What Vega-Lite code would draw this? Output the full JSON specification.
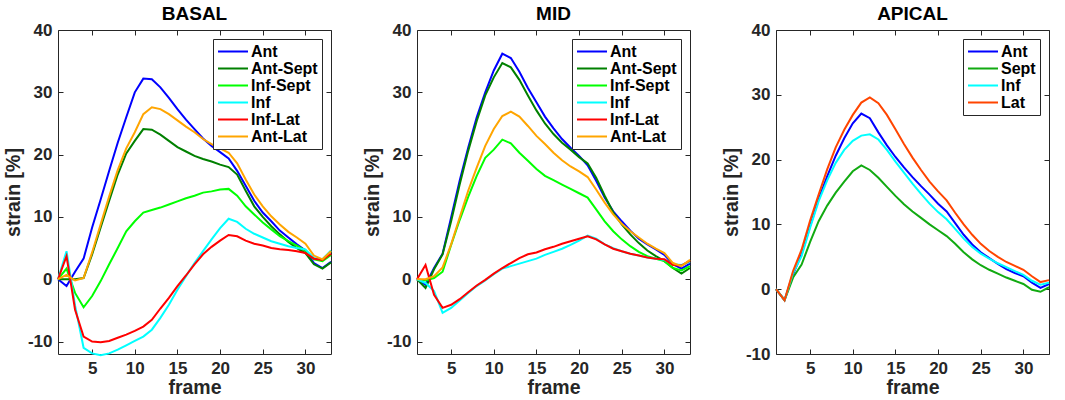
{
  "$schema": "https://vega.github.io/schema/vega-lite/v6.json",
  "autosize": {"type": "pad"},
  "padding": {"left": 2, "top": 4, "right": 5, "bottom": 2},
  "background": "white",
  "spacing": 86,
  "bounds": "flush",
  "resolve": {"scale": {"color": "independent"}, "legend": {"color": "independent"}},
  "config": {
    "view": {"stroke": "#262626", "strokeWidth": 1},
    "font": "Liberation Sans",
    "axis": {
      "grid": false, "domain": false, "minExtent": 0,
      "tickColor": "#262626", "tickSize": -5, "tickWidth": 1,
      "labelFont": "Liberation Sans", "labelFontWeight": "bold", "labelFontSize": 17,
      "labelColor": "#262626", "labelPadding": 11,
      "labelExpr": "replace(datum.label, '−', '-')",
      "titleFont": "Liberation Sans", "titleFontWeight": "bold", "titleFontSize": 19.5,
      "titleColor": "#262626"
    },
    "legend": {
      "orient": "top-right", "offset": 9, "padding": 4,
      "strokeColor": "#262626", "fillColor": "white",
      "symbolType": "stroke", "symbolSize": 900, "symbolStrokeWidth": 2,
      "labelFont": "Liberation Sans", "labelFontWeight": "bold", "labelFontSize": 16,
      "labelColor": "black", "labelOffset": 2, "clipHeight": 17, "rowPadding": 0
    },
    "title": {"font": "Liberation Sans", "fontSize": 19, "fontWeight": "bold", "color": "black", "offset": -3},
    "line": {"strokeWidth": 2, "clip": true}
  },
  "datasets": {
    "basal": [
      {"seg":"Ant","frame":1,"strain":0},{"seg":"Ant","frame":2,"strain":-1.1},{"seg":"Ant","frame":3,"strain":1.2},{"seg":"Ant","frame":4,"strain":3.3},{"seg":"Ant","frame":5,"strain":8.3},{"seg":"Ant","frame":6,"strain":12.8},{"seg":"Ant","frame":7,"strain":17.4},{"seg":"Ant","frame":8,"strain":21.9},{"seg":"Ant","frame":9,"strain":26},{"seg":"Ant","frame":10,"strain":30},{"seg":"Ant","frame":11,"strain":32.2},{"seg":"Ant","frame":12,"strain":32.1},{"seg":"Ant","frame":13,"strain":30.8},{"seg":"Ant","frame":14,"strain":29.1},{"seg":"Ant","frame":15,"strain":27.3},{"seg":"Ant","frame":16,"strain":25.6},{"seg":"Ant","frame":17,"strain":24.1},{"seg":"Ant","frame":18,"strain":22.6},{"seg":"Ant","frame":19,"strain":21.4},{"seg":"Ant","frame":20,"strain":20.4},{"seg":"Ant","frame":21,"strain":19.4},{"seg":"Ant","frame":22,"strain":17.4},{"seg":"Ant","frame":23,"strain":15},{"seg":"Ant","frame":24,"strain":12.6},{"seg":"Ant","frame":25,"strain":10.7},{"seg":"Ant","frame":26,"strain":9.3},{"seg":"Ant","frame":27,"strain":7.8},{"seg":"Ant","frame":28,"strain":6.7},{"seg":"Ant","frame":29,"strain":5.6},{"seg":"Ant","frame":30,"strain":4.6},{"seg":"Ant","frame":31,"strain":2.6},{"seg":"Ant","frame":32,"strain":1.8},{"seg":"Ant","frame":33,"strain":2.8},
      {"seg":"Ant-Sept","frame":1,"strain":0},{"seg":"Ant-Sept","frame":2,"strain":0},{"seg":"Ant-Sept","frame":3,"strain":0},{"seg":"Ant-Sept","frame":4,"strain":0.2},{"seg":"Ant-Sept","frame":5,"strain":4},{"seg":"Ant-Sept","frame":6,"strain":8.3},{"seg":"Ant-Sept","frame":7,"strain":12.6},{"seg":"Ant-Sept","frame":8,"strain":16.8},{"seg":"Ant-Sept","frame":9,"strain":20.2},{"seg":"Ant-Sept","frame":10,"strain":22.2},{"seg":"Ant-Sept","frame":11,"strain":24.1},{"seg":"Ant-Sept","frame":12,"strain":24},{"seg":"Ant-Sept","frame":13,"strain":23.2},{"seg":"Ant-Sept","frame":14,"strain":22.2},{"seg":"Ant-Sept","frame":15,"strain":21.2},{"seg":"Ant-Sept","frame":16,"strain":20.5},{"seg":"Ant-Sept","frame":17,"strain":19.8},{"seg":"Ant-Sept","frame":18,"strain":19.3},{"seg":"Ant-Sept","frame":19,"strain":18.9},{"seg":"Ant-Sept","frame":20,"strain":18.4},{"seg":"Ant-Sept","frame":21,"strain":18},{"seg":"Ant-Sept","frame":22,"strain":16.8},{"seg":"Ant-Sept","frame":23,"strain":14.2},{"seg":"Ant-Sept","frame":24,"strain":11.7},{"seg":"Ant-Sept","frame":25,"strain":10},{"seg":"Ant-Sept","frame":26,"strain":8.5},{"seg":"Ant-Sept","frame":27,"strain":7.2},{"seg":"Ant-Sept","frame":28,"strain":6},{"seg":"Ant-Sept","frame":29,"strain":5},{"seg":"Ant-Sept","frame":30,"strain":4.2},{"seg":"Ant-Sept","frame":31,"strain":2.4},{"seg":"Ant-Sept","frame":32,"strain":1.7},{"seg":"Ant-Sept","frame":33,"strain":2.7},
      {"seg":"Inf-Sept","frame":1,"strain":0},{"seg":"Inf-Sept","frame":2,"strain":1.7},{"seg":"Inf-Sept","frame":3,"strain":-2.2},{"seg":"Inf-Sept","frame":4,"strain":-4.5},{"seg":"Inf-Sept","frame":5,"strain":-2.7},{"seg":"Inf-Sept","frame":6,"strain":-0.3},{"seg":"Inf-Sept","frame":7,"strain":2.4},{"seg":"Inf-Sept","frame":8,"strain":5},{"seg":"Inf-Sept","frame":9,"strain":7.7},{"seg":"Inf-Sept","frame":10,"strain":9.3},{"seg":"Inf-Sept","frame":11,"strain":10.7},{"seg":"Inf-Sept","frame":12,"strain":11.1},{"seg":"Inf-Sept","frame":13,"strain":11.5},{"seg":"Inf-Sept","frame":14,"strain":12},{"seg":"Inf-Sept","frame":15,"strain":12.5},{"seg":"Inf-Sept","frame":16,"strain":13},{"seg":"Inf-Sept","frame":17,"strain":13.4},{"seg":"Inf-Sept","frame":18,"strain":13.9},{"seg":"Inf-Sept","frame":19,"strain":14.1},{"seg":"Inf-Sept","frame":20,"strain":14.4},{"seg":"Inf-Sept","frame":21,"strain":14.5},{"seg":"Inf-Sept","frame":22,"strain":13.4},{"seg":"Inf-Sept","frame":23,"strain":11.7},{"seg":"Inf-Sept","frame":24,"strain":10.4},{"seg":"Inf-Sept","frame":25,"strain":9.1},{"seg":"Inf-Sept","frame":26,"strain":8},{"seg":"Inf-Sept","frame":27,"strain":6.9},{"seg":"Inf-Sept","frame":28,"strain":6.1},{"seg":"Inf-Sept","frame":29,"strain":5.4},{"seg":"Inf-Sept","frame":30,"strain":4.6},{"seg":"Inf-Sept","frame":31,"strain":3.2},{"seg":"Inf-Sept","frame":32,"strain":2.9},{"seg":"Inf-Sept","frame":33,"strain":3.9},
      {"seg":"Inf","frame":1,"strain":0},{"seg":"Inf","frame":2,"strain":4.5},{"seg":"Inf","frame":3,"strain":-4.2},{"seg":"Inf","frame":4,"strain":-11},{"seg":"Inf","frame":5,"strain":-11.9},{"seg":"Inf","frame":6,"strain":-12.2},{"seg":"Inf","frame":7,"strain":-11.9},{"seg":"Inf","frame":8,"strain":-11.3},{"seg":"Inf","frame":9,"strain":-10.6},{"seg":"Inf","frame":10,"strain":-9.9},{"seg":"Inf","frame":11,"strain":-9.2},{"seg":"Inf","frame":12,"strain":-8.1},{"seg":"Inf","frame":13,"strain":-6.2},{"seg":"Inf","frame":14,"strain":-4.1},{"seg":"Inf","frame":15,"strain":-1.7},{"seg":"Inf","frame":16,"strain":0.5},{"seg":"Inf","frame":17,"strain":2.6},{"seg":"Inf","frame":18,"strain":4.5},{"seg":"Inf","frame":19,"strain":6.4},{"seg":"Inf","frame":20,"strain":8.2},{"seg":"Inf","frame":21,"strain":9.7},{"seg":"Inf","frame":22,"strain":9.2},{"seg":"Inf","frame":23,"strain":8.1},{"seg":"Inf","frame":24,"strain":7.3},{"seg":"Inf","frame":25,"strain":6.7},{"seg":"Inf","frame":26,"strain":6.1},{"seg":"Inf","frame":27,"strain":5.7},{"seg":"Inf","frame":28,"strain":5.3},{"seg":"Inf","frame":29,"strain":5},{"seg":"Inf","frame":30,"strain":4.8},{"seg":"Inf","frame":31,"strain":3.4},{"seg":"Inf","frame":32,"strain":3.2},{"seg":"Inf","frame":33,"strain":4.6},
      {"seg":"Inf-Lat","frame":1,"strain":0},{"seg":"Inf-Lat","frame":2,"strain":3.7},{"seg":"Inf-Lat","frame":3,"strain":-4.9},{"seg":"Inf-Lat","frame":4,"strain":-9.2},{"seg":"Inf-Lat","frame":5,"strain":-10},{"seg":"Inf-Lat","frame":6,"strain":-10.1},{"seg":"Inf-Lat","frame":7,"strain":-9.9},{"seg":"Inf-Lat","frame":8,"strain":-9.4},{"seg":"Inf-Lat","frame":9,"strain":-8.9},{"seg":"Inf-Lat","frame":10,"strain":-8.3},{"seg":"Inf-Lat","frame":11,"strain":-7.6},{"seg":"Inf-Lat","frame":12,"strain":-6.5},{"seg":"Inf-Lat","frame":13,"strain":-4.7},{"seg":"Inf-Lat","frame":14,"strain":-3},{"seg":"Inf-Lat","frame":15,"strain":-1.1},{"seg":"Inf-Lat","frame":16,"strain":0.6},{"seg":"Inf-Lat","frame":17,"strain":2.4},{"seg":"Inf-Lat","frame":18,"strain":4},{"seg":"Inf-Lat","frame":19,"strain":5.2},{"seg":"Inf-Lat","frame":20,"strain":6.2},{"seg":"Inf-Lat","frame":21,"strain":7.1},{"seg":"Inf-Lat","frame":22,"strain":6.9},{"seg":"Inf-Lat","frame":23,"strain":6.2},{"seg":"Inf-Lat","frame":24,"strain":5.7},{"seg":"Inf-Lat","frame":25,"strain":5.4},{"seg":"Inf-Lat","frame":26,"strain":5},{"seg":"Inf-Lat","frame":27,"strain":4.8},{"seg":"Inf-Lat","frame":28,"strain":4.7},{"seg":"Inf-Lat","frame":29,"strain":4.5},{"seg":"Inf-Lat","frame":30,"strain":4.2},{"seg":"Inf-Lat","frame":31,"strain":3.3},{"seg":"Inf-Lat","frame":32,"strain":3.1},{"seg":"Inf-Lat","frame":33,"strain":4.1},
      {"seg":"Ant-Lat","frame":1,"strain":0},{"seg":"Ant-Lat","frame":2,"strain":0.7},{"seg":"Ant-Lat","frame":3,"strain":-0.2},{"seg":"Ant-Lat","frame":4,"strain":0.2},{"seg":"Ant-Lat","frame":5,"strain":4.3},{"seg":"Ant-Lat","frame":6,"strain":8.8},{"seg":"Ant-Lat","frame":7,"strain":13.3},{"seg":"Ant-Lat","frame":8,"strain":17.5},{"seg":"Ant-Lat","frame":9,"strain":21},{"seg":"Ant-Lat","frame":10,"strain":23.6},{"seg":"Ant-Lat","frame":11,"strain":26.5},{"seg":"Ant-Lat","frame":12,"strain":27.6},{"seg":"Ant-Lat","frame":13,"strain":27.3},{"seg":"Ant-Lat","frame":14,"strain":26.5},{"seg":"Ant-Lat","frame":15,"strain":25.5},{"seg":"Ant-Lat","frame":16,"strain":24.5},{"seg":"Ant-Lat","frame":17,"strain":23.6},{"seg":"Ant-Lat","frame":18,"strain":22.5},{"seg":"Ant-Lat","frame":19,"strain":21.7},{"seg":"Ant-Lat","frame":20,"strain":21},{"seg":"Ant-Lat","frame":21,"strain":20.3},{"seg":"Ant-Lat","frame":22,"strain":18.6},{"seg":"Ant-Lat","frame":23,"strain":16},{"seg":"Ant-Lat","frame":24,"strain":13.6},{"seg":"Ant-Lat","frame":25,"strain":11.7},{"seg":"Ant-Lat","frame":26,"strain":10.1},{"seg":"Ant-Lat","frame":27,"strain":8.8},{"seg":"Ant-Lat","frame":28,"strain":7.6},{"seg":"Ant-Lat","frame":29,"strain":6.7},{"seg":"Ant-Lat","frame":30,"strain":5.7},{"seg":"Ant-Lat","frame":31,"strain":3.8},{"seg":"Ant-Lat","frame":32,"strain":3.2},{"seg":"Ant-Lat","frame":33,"strain":4.5}
    ],
    "mid": [
      {"seg":"Ant","frame":1,"strain":0},{"seg":"Ant","frame":2,"strain":-0.9},{"seg":"Ant","frame":3,"strain":1.8},{"seg":"Ant","frame":4,"strain":4.1},{"seg":"Ant","frame":5,"strain":9.9},{"seg":"Ant","frame":6,"strain":15.8},{"seg":"Ant","frame":7,"strain":21.1},{"seg":"Ant","frame":8,"strain":26},{"seg":"Ant","frame":9,"strain":30},{"seg":"Ant","frame":10,"strain":33.5},{"seg":"Ant","frame":11,"strain":36.2},{"seg":"Ant","frame":12,"strain":35.5},{"seg":"Ant","frame":13,"strain":33.3},{"seg":"Ant","frame":14,"strain":30.7},{"seg":"Ant","frame":15,"strain":28.4},{"seg":"Ant","frame":16,"strain":26.1},{"seg":"Ant","frame":17,"strain":24.2},{"seg":"Ant","frame":18,"strain":22.5},{"seg":"Ant","frame":19,"strain":21.1},{"seg":"Ant","frame":20,"strain":19.8},{"seg":"Ant","frame":21,"strain":18.3},{"seg":"Ant","frame":22,"strain":15.8},{"seg":"Ant","frame":23,"strain":13.1},{"seg":"Ant","frame":24,"strain":10.9},{"seg":"Ant","frame":25,"strain":9.3},{"seg":"Ant","frame":26,"strain":7.8},{"seg":"Ant","frame":27,"strain":6.5},{"seg":"Ant","frame":28,"strain":5.6},{"seg":"Ant","frame":29,"strain":4.8},{"seg":"Ant","frame":30,"strain":3.9},{"seg":"Ant","frame":31,"strain":2.4},{"seg":"Ant","frame":32,"strain":1.7},{"seg":"Ant","frame":33,"strain":2.5},
      {"seg":"Ant-Sept","frame":1,"strain":0},{"seg":"Ant-Sept","frame":2,"strain":-1.4},{"seg":"Ant-Sept","frame":3,"strain":1.6},{"seg":"Ant-Sept","frame":4,"strain":4},{"seg":"Ant-Sept","frame":5,"strain":9.3},{"seg":"Ant-Sept","frame":6,"strain":15.2},{"seg":"Ant-Sept","frame":7,"strain":20.6},{"seg":"Ant-Sept","frame":8,"strain":25.4},{"seg":"Ant-Sept","frame":9,"strain":29.5},{"seg":"Ant-Sept","frame":10,"strain":32.4},{"seg":"Ant-Sept","frame":11,"strain":34.7},{"seg":"Ant-Sept","frame":12,"strain":34},{"seg":"Ant-Sept","frame":13,"strain":32},{"seg":"Ant-Sept","frame":14,"strain":29.5},{"seg":"Ant-Sept","frame":15,"strain":27.1},{"seg":"Ant-Sept","frame":16,"strain":25},{"seg":"Ant-Sept","frame":17,"strain":23.3},{"seg":"Ant-Sept","frame":18,"strain":21.9},{"seg":"Ant-Sept","frame":19,"strain":20.8},{"seg":"Ant-Sept","frame":20,"strain":19.6},{"seg":"Ant-Sept","frame":21,"strain":18.6},{"seg":"Ant-Sept","frame":22,"strain":16.3},{"seg":"Ant-Sept","frame":23,"strain":13.4},{"seg":"Ant-Sept","frame":24,"strain":10.7},{"seg":"Ant-Sept","frame":25,"strain":8.8},{"seg":"Ant-Sept","frame":26,"strain":7.2},{"seg":"Ant-Sept","frame":27,"strain":5.8},{"seg":"Ant-Sept","frame":28,"strain":4.6},{"seg":"Ant-Sept","frame":29,"strain":3.7},{"seg":"Ant-Sept","frame":30,"strain":2.9},{"seg":"Ant-Sept","frame":31,"strain":1.8},{"seg":"Ant-Sept","frame":32,"strain":0.9},{"seg":"Ant-Sept","frame":33,"strain":1.8},
      {"seg":"Inf-Sept","frame":1,"strain":0},{"seg":"Inf-Sept","frame":2,"strain":-0.2},{"seg":"Inf-Sept","frame":3,"strain":0.2},{"seg":"Inf-Sept","frame":4,"strain":1.2},{"seg":"Inf-Sept","frame":5,"strain":5.5},{"seg":"Inf-Sept","frame":6,"strain":9.5},{"seg":"Inf-Sept","frame":7,"strain":13.2},{"seg":"Inf-Sept","frame":8,"strain":16.6},{"seg":"Inf-Sept","frame":9,"strain":19.5},{"seg":"Inf-Sept","frame":10,"strain":20.8},{"seg":"Inf-Sept","frame":11,"strain":22.4},{"seg":"Inf-Sept","frame":12,"strain":21.8},{"seg":"Inf-Sept","frame":13,"strain":20.3},{"seg":"Inf-Sept","frame":14,"strain":19},{"seg":"Inf-Sept","frame":15,"strain":17.7},{"seg":"Inf-Sept","frame":16,"strain":16.6},{"seg":"Inf-Sept","frame":17,"strain":15.9},{"seg":"Inf-Sept","frame":18,"strain":15.2},{"seg":"Inf-Sept","frame":19,"strain":14.5},{"seg":"Inf-Sept","frame":20,"strain":13.8},{"seg":"Inf-Sept","frame":21,"strain":13.1},{"seg":"Inf-Sept","frame":22,"strain":11.2},{"seg":"Inf-Sept","frame":23,"strain":9.3},{"seg":"Inf-Sept","frame":24,"strain":7.7},{"seg":"Inf-Sept","frame":25,"strain":6.4},{"seg":"Inf-Sept","frame":26,"strain":5.3},{"seg":"Inf-Sept","frame":27,"strain":4.4},{"seg":"Inf-Sept","frame":28,"strain":3.7},{"seg":"Inf-Sept","frame":29,"strain":3.3},{"seg":"Inf-Sept","frame":30,"strain":2.9},{"seg":"Inf-Sept","frame":31,"strain":1.8},{"seg":"Inf-Sept","frame":32,"strain":1.4},{"seg":"Inf-Sept","frame":33,"strain":2.1},
      {"seg":"Inf","frame":1,"strain":0},{"seg":"Inf","frame":2,"strain":-0.6},{"seg":"Inf","frame":3,"strain":-1.9},{"seg":"Inf","frame":4,"strain":-5.4},{"seg":"Inf","frame":5,"strain":-4.6},{"seg":"Inf","frame":6,"strain":-3.4},{"seg":"Inf","frame":7,"strain":-2.2},{"seg":"Inf","frame":8,"strain":-1.1},{"seg":"Inf","frame":9,"strain":-0.2},{"seg":"Inf","frame":10,"strain":0.8},{"seg":"Inf","frame":11,"strain":1.7},{"seg":"Inf","frame":12,"strain":2.1},{"seg":"Inf","frame":13,"strain":2.5},{"seg":"Inf","frame":14,"strain":2.9},{"seg":"Inf","frame":15,"strain":3.3},{"seg":"Inf","frame":16,"strain":3.9},{"seg":"Inf","frame":17,"strain":4.4},{"seg":"Inf","frame":18,"strain":4.9},{"seg":"Inf","frame":19,"strain":5.5},{"seg":"Inf","frame":20,"strain":6.2},{"seg":"Inf","frame":21,"strain":7},{"seg":"Inf","frame":22,"strain":6.5},{"seg":"Inf","frame":23,"strain":5.6},{"seg":"Inf","frame":24,"strain":5},{"seg":"Inf","frame":25,"strain":4.5},{"seg":"Inf","frame":26,"strain":4.1},{"seg":"Inf","frame":27,"strain":3.8},{"seg":"Inf","frame":28,"strain":3.5},{"seg":"Inf","frame":29,"strain":3.3},{"seg":"Inf","frame":30,"strain":3.1},{"seg":"Inf","frame":31,"strain":2.4},{"seg":"Inf","frame":32,"strain":2.3},{"seg":"Inf","frame":33,"strain":2.8},
      {"seg":"Inf-Lat","frame":1,"strain":0},{"seg":"Inf-Lat","frame":2,"strain":2.3},{"seg":"Inf-Lat","frame":3,"strain":-2.5},{"seg":"Inf-Lat","frame":4,"strain":-4.6},{"seg":"Inf-Lat","frame":5,"strain":-4.1},{"seg":"Inf-Lat","frame":6,"strain":-3.2},{"seg":"Inf-Lat","frame":7,"strain":-2.1},{"seg":"Inf-Lat","frame":8,"strain":-1},{"seg":"Inf-Lat","frame":9,"strain":-0.1},{"seg":"Inf-Lat","frame":10,"strain":0.9},{"seg":"Inf-Lat","frame":11,"strain":1.8},{"seg":"Inf-Lat","frame":12,"strain":2.6},{"seg":"Inf-Lat","frame":13,"strain":3.4},{"seg":"Inf-Lat","frame":14,"strain":4},{"seg":"Inf-Lat","frame":15,"strain":4.3},{"seg":"Inf-Lat","frame":16,"strain":4.8},{"seg":"Inf-Lat","frame":17,"strain":5.2},{"seg":"Inf-Lat","frame":18,"strain":5.7},{"seg":"Inf-Lat","frame":19,"strain":6.1},{"seg":"Inf-Lat","frame":20,"strain":6.5},{"seg":"Inf-Lat","frame":21,"strain":6.9},{"seg":"Inf-Lat","frame":22,"strain":6.4},{"seg":"Inf-Lat","frame":23,"strain":5.6},{"seg":"Inf-Lat","frame":24,"strain":4.9},{"seg":"Inf-Lat","frame":25,"strain":4.5},{"seg":"Inf-Lat","frame":26,"strain":4.1},{"seg":"Inf-Lat","frame":27,"strain":3.8},{"seg":"Inf-Lat","frame":28,"strain":3.5},{"seg":"Inf-Lat","frame":29,"strain":3.3},{"seg":"Inf-Lat","frame":30,"strain":3.2},{"seg":"Inf-Lat","frame":31,"strain":2.3},{"seg":"Inf-Lat","frame":32,"strain":2.2},{"seg":"Inf-Lat","frame":33,"strain":3},
      {"seg":"Ant-Lat","frame":1,"strain":0},{"seg":"Ant-Lat","frame":2,"strain":0},{"seg":"Ant-Lat","frame":3,"strain":0.5},{"seg":"Ant-Lat","frame":4,"strain":1.9},{"seg":"Ant-Lat","frame":5,"strain":5.6},{"seg":"Ant-Lat","frame":6,"strain":9.9},{"seg":"Ant-Lat","frame":7,"strain":14.2},{"seg":"Ant-Lat","frame":8,"strain":17.9},{"seg":"Ant-Lat","frame":9,"strain":21.4},{"seg":"Ant-Lat","frame":10,"strain":24.1},{"seg":"Ant-Lat","frame":11,"strain":26.2},{"seg":"Ant-Lat","frame":12,"strain":26.9},{"seg":"Ant-Lat","frame":13,"strain":26.1},{"seg":"Ant-Lat","frame":14,"strain":24.6},{"seg":"Ant-Lat","frame":15,"strain":23},{"seg":"Ant-Lat","frame":16,"strain":21.7},{"seg":"Ant-Lat","frame":17,"strain":20.3},{"seg":"Ant-Lat","frame":18,"strain":19.1},{"seg":"Ant-Lat","frame":19,"strain":18.1},{"seg":"Ant-Lat","frame":20,"strain":17.3},{"seg":"Ant-Lat","frame":21,"strain":16.4},{"seg":"Ant-Lat","frame":22,"strain":14.4},{"seg":"Ant-Lat","frame":23,"strain":12.3},{"seg":"Ant-Lat","frame":24,"strain":10.4},{"seg":"Ant-Lat","frame":25,"strain":8.9},{"seg":"Ant-Lat","frame":26,"strain":7.7},{"seg":"Ant-Lat","frame":27,"strain":6.7},{"seg":"Ant-Lat","frame":28,"strain":5.7},{"seg":"Ant-Lat","frame":29,"strain":4.9},{"seg":"Ant-Lat","frame":30,"strain":4.2},{"seg":"Ant-Lat","frame":31,"strain":2.6},{"seg":"Ant-Lat","frame":32,"strain":2.1},{"seg":"Ant-Lat","frame":33,"strain":3.1}
    ],
    "apical": [
      {"seg":"Ant","frame":1,"strain":0},{"seg":"Ant","frame":2,"strain":-1.7},{"seg":"Ant","frame":3,"strain":2.3},{"seg":"Ant","frame":4,"strain":5.4},{"seg":"Ant","frame":5,"strain":9.8},{"seg":"Ant","frame":6,"strain":13.9},{"seg":"Ant","frame":7,"strain":17.4},{"seg":"Ant","frame":8,"strain":20.6},{"seg":"Ant","frame":9,"strain":23.3},{"seg":"Ant","frame":10,"strain":25.6},{"seg":"Ant","frame":11,"strain":27.1},{"seg":"Ant","frame":12,"strain":26.4},{"seg":"Ant","frame":13,"strain":24.2},{"seg":"Ant","frame":14,"strain":22.2},{"seg":"Ant","frame":15,"strain":20.4},{"seg":"Ant","frame":16,"strain":18.8},{"seg":"Ant","frame":17,"strain":17.3},{"seg":"Ant","frame":18,"strain":15.9},{"seg":"Ant","frame":19,"strain":14.6},{"seg":"Ant","frame":20,"strain":13.2},{"seg":"Ant","frame":21,"strain":12},{"seg":"Ant","frame":22,"strain":10.2},{"seg":"Ant","frame":23,"strain":8.4},{"seg":"Ant","frame":24,"strain":6.9},{"seg":"Ant","frame":25,"strain":5.7},{"seg":"Ant","frame":26,"strain":4.8},{"seg":"Ant","frame":27,"strain":3.9},{"seg":"Ant","frame":28,"strain":3.1},{"seg":"Ant","frame":29,"strain":2.5},{"seg":"Ant","frame":30,"strain":2},{"seg":"Ant","frame":31,"strain":1},{"seg":"Ant","frame":32,"strain":0.2},{"seg":"Ant","frame":33,"strain":0.8},
      {"seg":"Sept","frame":1,"strain":0},{"seg":"Sept","frame":2,"strain":-1.7},{"seg":"Sept","frame":3,"strain":1.8},{"seg":"Sept","frame":4,"strain":3.8},{"seg":"Sept","frame":5,"strain":7.3},{"seg":"Sept","frame":6,"strain":10.5},{"seg":"Sept","frame":7,"strain":12.9},{"seg":"Sept","frame":8,"strain":14.9},{"seg":"Sept","frame":9,"strain":16.6},{"seg":"Sept","frame":10,"strain":18.2},{"seg":"Sept","frame":11,"strain":19.1},{"seg":"Sept","frame":12,"strain":18.4},{"seg":"Sept","frame":13,"strain":17.2},{"seg":"Sept","frame":14,"strain":15.8},{"seg":"Sept","frame":15,"strain":14.4},{"seg":"Sept","frame":16,"strain":13.1},{"seg":"Sept","frame":17,"strain":12},{"seg":"Sept","frame":18,"strain":11},{"seg":"Sept","frame":19,"strain":10},{"seg":"Sept","frame":20,"strain":9.1},{"seg":"Sept","frame":21,"strain":8.2},{"seg":"Sept","frame":22,"strain":7},{"seg":"Sept","frame":23,"strain":5.7},{"seg":"Sept","frame":24,"strain":4.6},{"seg":"Sept","frame":25,"strain":3.7},{"seg":"Sept","frame":26,"strain":3},{"seg":"Sept","frame":27,"strain":2.4},{"seg":"Sept","frame":28,"strain":1.8},{"seg":"Sept","frame":29,"strain":1.3},{"seg":"Sept","frame":30,"strain":0.8},{"seg":"Sept","frame":31,"strain":-0.1},{"seg":"Sept","frame":32,"strain":-0.4},{"seg":"Sept","frame":33,"strain":0.3},
      {"seg":"Inf","frame":1,"strain":0},{"seg":"Inf","frame":2,"strain":-1.7},{"seg":"Inf","frame":3,"strain":2.5},{"seg":"Inf","frame":4,"strain":5.1},{"seg":"Inf","frame":5,"strain":9.5},{"seg":"Inf","frame":6,"strain":13.6},{"seg":"Inf","frame":7,"strain":16.8},{"seg":"Inf","frame":8,"strain":19.5},{"seg":"Inf","frame":9,"strain":21.5},{"seg":"Inf","frame":10,"strain":22.9},{"seg":"Inf","frame":11,"strain":23.7},{"seg":"Inf","frame":12,"strain":23.9},{"seg":"Inf","frame":13,"strain":23.1},{"seg":"Inf","frame":14,"strain":21.5},{"seg":"Inf","frame":15,"strain":19.7},{"seg":"Inf","frame":16,"strain":18},{"seg":"Inf","frame":17,"strain":16.3},{"seg":"Inf","frame":18,"strain":14.7},{"seg":"Inf","frame":19,"strain":13.2},{"seg":"Inf","frame":20,"strain":11.9},{"seg":"Inf","frame":21,"strain":10.8},{"seg":"Inf","frame":22,"strain":9.3},{"seg":"Inf","frame":23,"strain":7.8},{"seg":"Inf","frame":24,"strain":6.5},{"seg":"Inf","frame":25,"strain":5.5},{"seg":"Inf","frame":26,"strain":4.7},{"seg":"Inf","frame":27,"strain":4},{"seg":"Inf","frame":28,"strain":3.4},{"seg":"Inf","frame":29,"strain":2.8},{"seg":"Inf","frame":30,"strain":2.2},{"seg":"Inf","frame":31,"strain":1.3},{"seg":"Inf","frame":32,"strain":0.7},{"seg":"Inf","frame":33,"strain":1},
      {"seg":"Lat","frame":1,"strain":0},{"seg":"Lat","frame":2,"strain":-1.7},{"seg":"Lat","frame":3,"strain":2.8},{"seg":"Lat","frame":4,"strain":6.1},{"seg":"Lat","frame":5,"strain":10.6},{"seg":"Lat","frame":6,"strain":14.6},{"seg":"Lat","frame":7,"strain":18.5},{"seg":"Lat","frame":8,"strain":21.9},{"seg":"Lat","frame":9,"strain":24.6},{"seg":"Lat","frame":10,"strain":26.9},{"seg":"Lat","frame":11,"strain":28.8},{"seg":"Lat","frame":12,"strain":29.6},{"seg":"Lat","frame":13,"strain":28.7},{"seg":"Lat","frame":14,"strain":26.9},{"seg":"Lat","frame":15,"strain":24.7},{"seg":"Lat","frame":16,"strain":22.4},{"seg":"Lat","frame":17,"strain":20.3},{"seg":"Lat","frame":18,"strain":18.4},{"seg":"Lat","frame":19,"strain":16.6},{"seg":"Lat","frame":20,"strain":15.1},{"seg":"Lat","frame":21,"strain":13.7},{"seg":"Lat","frame":22,"strain":11.8},{"seg":"Lat","frame":23,"strain":10},{"seg":"Lat","frame":24,"strain":8.4},{"seg":"Lat","frame":25,"strain":7},{"seg":"Lat","frame":26,"strain":5.9},{"seg":"Lat","frame":27,"strain":5},{"seg":"Lat","frame":28,"strain":4.2},{"seg":"Lat","frame":29,"strain":3.6},{"seg":"Lat","frame":30,"strain":3},{"seg":"Lat","frame":31,"strain":2},{"seg":"Lat","frame":32,"strain":1.1},{"seg":"Lat","frame":33,"strain":1.4}
    ]
  },
  "hconcat": [
    {
      "width": 273, "height": 324,
      "title": "BASAL",
      "data": {"name": "basal"},
      "layer": [
        {
          "mark": "line",
          "encoding": {
            "x": {"field": "frame", "type": "quantitative", "scale": {"domain": [1, 33], "nice": false, "zero": false}, "axis": {"values": [5, 10, 15, 20, 25, 30], "title": "frame", "titlePadding": 2}},
            "y": {"field": "strain", "type": "quantitative", "scale": {"domain": [-12, 40], "nice": false, "zero": false}, "axis": {"values": [-10, 0, 10, 20, 30, 40], "title": "strain [%]", "titlePadding": 4}},
            "color": {"field": "seg", "type": "nominal", "scale": {"domain": ["Ant", "Ant-Sept", "Inf-Sept", "Inf", "Inf-Lat", "Ant-Lat"], "range": ["#0000ff", "#008000", "#00ff00", "#00ffff", "#ff0000", "#ffa500"]}, "legend": {"title": null, "orient": "top-right"}}
          }
        },
        {
          "mark": {"type": "line", "strokeOpacity": 0},
          "encoding": {
            "x": {"field": "frame", "type": "quantitative", "scale": {"domain": [1, 33], "nice": false, "zero": false}, "axis": {"orient": "top", "values": [5, 10, 15, 20, 25, 30], "labels": false, "title": null}},
            "y": {"field": "strain", "type": "quantitative", "scale": {"domain": [-12, 40], "nice": false, "zero": false}, "axis": {"orient": "right", "values": [-10, 0, 10, 20, 30, 40], "labels": false, "title": null}},
            "detail": {"field": "seg"}
          }
        }
      ],
      "resolve": {"axis": {"x": "independent", "y": "independent"}}
    },
    {
      "width": 273, "height": 324,
      "title": "MID",
      "data": {"name": "mid"},
      "layer": [
        {
          "mark": "line",
          "encoding": {
            "x": {"field": "frame", "type": "quantitative", "scale": {"domain": [1, 33], "nice": false, "zero": false}, "axis": {"values": [5, 10, 15, 20, 25, 30], "title": "frame", "titlePadding": 2}},
            "y": {"field": "strain", "type": "quantitative", "scale": {"domain": [-12, 40], "nice": false, "zero": false}, "axis": {"values": [-10, 0, 10, 20, 30, 40], "title": "strain [%]", "titlePadding": 4}},
            "color": {"field": "seg", "type": "nominal", "scale": {"domain": ["Ant", "Ant-Sept", "Inf-Sept", "Inf", "Inf-Lat", "Ant-Lat"], "range": ["#0000ff", "#008000", "#00ff00", "#00ffff", "#ff0000", "#ffa500"]}, "legend": {"title": null, "orient": "top-right"}}
          }
        },
        {
          "mark": {"type": "line", "strokeOpacity": 0},
          "encoding": {
            "x": {"field": "frame", "type": "quantitative", "scale": {"domain": [1, 33], "nice": false, "zero": false}, "axis": {"orient": "top", "values": [5, 10, 15, 20, 25, 30], "labels": false, "title": null}},
            "y": {"field": "strain", "type": "quantitative", "scale": {"domain": [-12, 40], "nice": false, "zero": false}, "axis": {"orient": "right", "values": [-10, 0, 10, 20, 30, 40], "labels": false, "title": null}},
            "detail": {"field": "seg"}
          }
        }
      ],
      "resolve": {"axis": {"x": "independent", "y": "independent"}}
    },
    {
      "width": 273, "height": 324,
      "title": "APICAL",
      "data": {"name": "apical"},
      "layer": [
        {
          "mark": "line",
          "encoding": {
            "x": {"field": "frame", "type": "quantitative", "scale": {"domain": [1, 33], "nice": false, "zero": false}, "axis": {"values": [5, 10, 15, 20, 25, 30], "title": "frame", "titlePadding": 2}},
            "y": {"field": "strain", "type": "quantitative", "scale": {"domain": [-10, 40], "nice": false, "zero": false}, "axis": {"values": [-10, 0, 10, 20, 30, 40], "title": "strain [%]", "titlePadding": 4}},
            "color": {"field": "seg", "type": "nominal", "scale": {"domain": ["Ant", "Sept", "Inf", "Lat"], "range": ["#0000ff", "#11aa11", "#00ffff", "#ff4500"]}, "legend": {"title": null, "orient": "top-right"}}
          }
        },
        {
          "mark": {"type": "line", "strokeOpacity": 0},
          "encoding": {
            "x": {"field": "frame", "type": "quantitative", "scale": {"domain": [1, 33], "nice": false, "zero": false}, "axis": {"orient": "top", "values": [5, 10, 15, 20, 25, 30], "labels": false, "title": null}},
            "y": {"field": "strain", "type": "quantitative", "scale": {"domain": [-10, 40], "nice": false, "zero": false}, "axis": {"orient": "right", "values": [-10, 0, 10, 20, 30, 40], "labels": false, "title": null}},
            "detail": {"field": "seg"}
          }
        }
      ],
      "resolve": {"axis": {"x": "independent", "y": "independent"}}
    }
  ]
}
